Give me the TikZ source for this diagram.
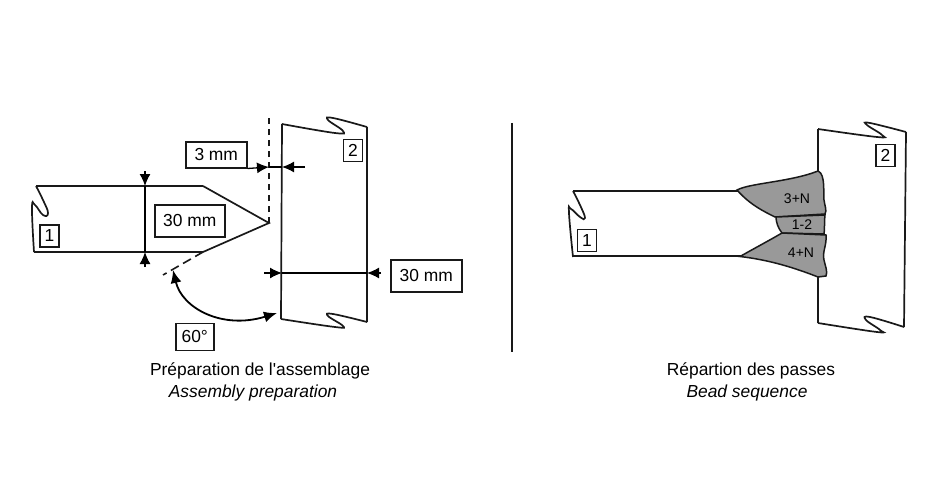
\documentclass[tikz,border=0pt]{standalone}
\usepackage{fontspec}
\setmainfont{Liberation Sans}
\usetikzlibrary{arrows.meta, positioning}

\begin{document}
\begin{tikzpicture}[
    x=1pt, y=-1pt,
    every node/.style={font=\fontsize{17.4}{20}\selectfont},
    edge/.style={line width=1.7pt, black!90},
    thinedge/.style={line width=1.6pt, black!90},
    dimline/.style={line width=1.3pt, -{Latex[length=12pt,width=11pt]}},
    dimboth/.style={line width=1.8pt, {Latex[length=13pt,width=11pt]}-{Latex[length=13pt,width=11pt]}},
    valbox/.style={draw, line width=1.5pt, black!90, text=black, inner sep=0pt, anchor=north west},
    partbox/.style={draw, line width=1.6pt, black!90, text=black, inner sep=0pt, minimum width=19pt, minimum height=22pt},
    bead/.style={draw, line width=1.5pt, black!90, fill=black!40},
    beadtext/.style={font=\fontsize{14}{16}\selectfont, text=black},
    caption/.style={font=\fontsize{17.4}{20}\selectfont},
    captionit/.style={font=\fontsize{17.4}{20}\selectfont\itshape}
]
\useasboundingbox (0,0) rectangle (939,500);

% Left view - plate 1
\draw[edge] (203,186) -- (36,186)
    plot[smooth, tension=0.8] coordinates {(36,186) (43,200) (48,213) (43,215) (35,205) (32,208) (34,252)}
    (34,252) -- (203,252);
\draw[edge] (203,186) -- (269,223) -- (203,252);
\node[partbox] (part1) at (49.5,236) {1};

% Left view - plate 2
\draw[edge] plot[smooth, tension=0.7] coordinates {(282,124) (335,133) (343,131) (328,120) (333,118) (367,127)};
\draw[edge] (282,124) -- (281,319) (367,127) -- (367,322);
\draw[edge] plot[smooth, tension=0.7] coordinates {(367,322) (333,314) (328,316) (343,326) (335,327) (281,319)};
\node[partbox] (part2) at (353,150.5) {2};

% Preparation lines
\coordinate (tip) at (269,223);
\coordinate (vtop) at (269,118);
\coordinate (bevelA) at (203,252);
\coordinate (bevelB) at (163,275);
\draw[thinedge, dash pattern=on 6pt off 5pt] (tip) -- (vtop);
\draw[thinedge, dash pattern=on 9pt off 5pt] (bevelA) -- (bevelB);

% 30 mm thickness of plate 1
\coordinate (thickT) at (145,186);
\coordinate (thickB) at (145,252);
\coordinate (thickTout) at (145,171);
\coordinate (thickBout) at (145,267);
\draw[line width=1.7pt] (thickT) -- (thickB);
\draw[dimline] (thickTout) -- (thickT);
\draw[dimline] (thickBout) -- (thickB);
\node[valbox, minimum width=70pt, minimum height=32pt] (thick1) at (154,204) {30 mm};

% 3 mm root gap
\node[valbox, minimum width=61pt, minimum height=26pt] (gapval) at (185,141) {3 mm};
\coordinate (gapL) at (269,167);
\coordinate (gapR) at (282,167);
\coordinate (gapRout) at (305,167);
\draw[dimline] (gapval.south east) -- (gapL);
\draw[dimline] (gapRout) -- (gapR);
\draw[line width=1.2pt] (gapL) -- (gapR);

% 30 mm thickness of plate 2
\node[valbox, minimum width=71pt, minimum height=32pt] (thick2) at (390,259) {30 mm};
\coordinate (wallL) at (282,273);
\coordinate (wallR) at (367,273);
\coordinate (wallLout) at (264,273);
\coordinate (wallRout) at (381,273);
\draw[dimline] (wallLout) -- (wallL);
\draw[dimline] (wallRout) -- (wallR);
\draw[line width=1.2pt] (wallL) -- (wallR);

% 60 degree angle
\node[valbox, minimum width=38pt, minimum height=27pt] (angleval) at (175,322.5) {60°};
\coordinate (angleA) at (173,270);
\coordinate (angleB) at (277,313);
\draw[dimboth] (angleA) .. controls (182,308) and (222,330) .. (angleB);

% Divider
\coordinate (divT) at (512,123);
\coordinate (divB) at (512,352);
\draw[line width=1.3pt, black!90] (divT) -- (divB);

% Right view - plate 1
\draw[edge] (738,191) -- (573,191)
    plot[smooth, tension=0.8] coordinates {(573,191) (580,205) (585,218) (580,217) (571,209) (569,213) (573,257)}
    (573,256) -- (741,256);
\node[partbox] (part1b) at (587,240.5) {1};

% Right view - plate 2
\draw[edge] (818,172) -- (818,129);
\draw[edge] plot[smooth, tension=0.7] coordinates {(818,129) (877,137) (882,135) (867,125) (870,123) (906,132)};
\draw[edge] (906,132) -- (904,327);
\draw[edge] plot[smooth, tension=0.7] coordinates {(904,327) (870,317) (866,320) (880,330) (877,332) (818,323)};
\draw[edge] (818,323) -- (818,277);
\node[partbox] (part2b) at (885.5,155.5) {2};

% Beads
\draw[bead] (737,190) .. controls (750,183) and (790,182) .. (818,171)
    .. controls (826,174) and (823,195) .. (824,200)
    .. controls (825,207) and (827,210) .. (825,214)
    -- (775,217) .. controls (765,212) and (750,205) .. (737,190) -- cycle;
\draw[bead] (776,217) -- (825,215) .. controls (824,222) and (825,228) .. (824,234)
    -- (782,233) .. controls (778,228) and (776,222) .. (776,217) -- cycle;
\draw[bead] (740,256.5) .. controls (755,248) and (770,240) .. (782,233)
    -- (826,235) .. controls (827,245) and (822,252) .. (824,260)
    .. controls (825,265) and (828,272) .. (826,276)
    -- (818,277) .. controls (795,268) and (770,260) .. (740,256.5) -- cycle;
\node[beadtext] (bead3) at (797,198.5) {3+N};
\node[beadtext] (bead1) at (802,225) {1-2};
\node[beadtext] (bead4) at (801,253) {4+N};

% Captions
\node[caption] (capL) at (260,370.5) {Préparation de l\textquotesingle assemblage};
\node[captionit] (capLit) at (253,393) {Assembly preparation};
\node[caption] (capR) at (751,371) {Répartion des passes};
\node[captionit] (capRit) at (747,393) {Bead sequence};
\end{tikzpicture}
\end{document}
